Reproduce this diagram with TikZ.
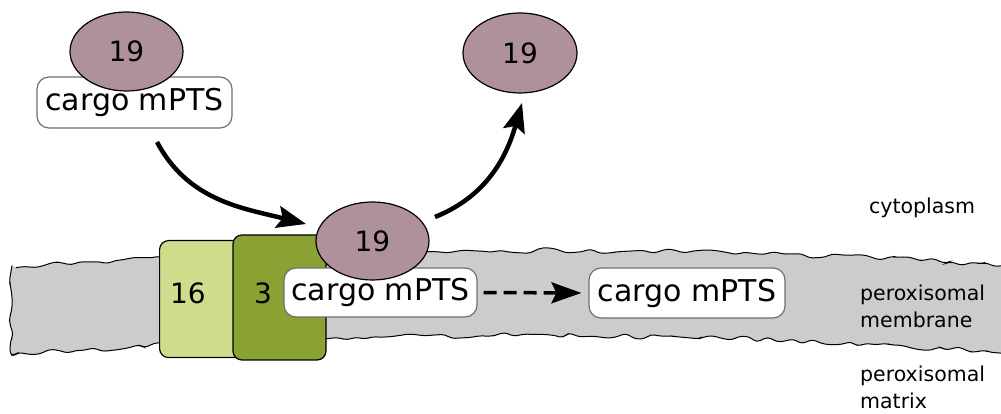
\documentclass[tikz,border=0pt]{standalone}
\usepackage{fontspec}
\setmainfont{DejaVu Sans}
\usetikzlibrary{shapes.geometric,arrows.meta,decorations.pathmorphing}
\definecolor{mauve}{RGB}{175,145,155}
\definecolor{lightg}{RGB}{206,220,140}
\definecolor{darkg}{RGB}{138,161,51}
\definecolor{memgray}{RGB}{204,204,204}
\definecolor{boxgray}{RGB}{112,112,112}
\begin{document}
\begin{tikzpicture}[x=1pt,y=1pt,
 pex/.style={ellipse,draw=black,line width=1.2pt,fill=mauve,inner sep=0pt,font=\fontsize{28}{30}\selectfont},
 cargo/.style={rectangle,rounded corners=12pt,draw=boxgray,line width=1.2pt,fill=white,inner sep=0pt,font=\fontsize{30}{32}\selectfont},
 pbox/.style={rectangle,rounded corners=9pt,draw=black,line width=1.2pt,inner sep=0pt},
 numtxt/.style={inner sep=0pt,font=\fontsize{28}{30}\selectfont},
 bigarrow/.style={line width=4.5pt,-{Stealth[length=29pt,width=22pt,inset=5pt]}},
 dasharrow/.style={line width=3.5pt,dash pattern=on 13pt off 7pt,-{Stealth[length=30pt,width=21pt,inset=5pt]}},
 lbl/.style={font=\fontsize{20.5}{27}\selectfont,align=left,anchor=west,inner sep=0pt}]
\useasboundingbox (0,0) rectangle (1001,414);
\clip (0,0) rectangle (1001,414);
% membrane
\pgfmathsetseed{7}
\path[fill=memgray,draw=black,line width=1pt,decorate,decoration={random steps,segment length=9pt,amplitude=3pt},rounded corners=4pt]
 (12,146) .. controls (300,168) and (700,170) .. (1015,148) -- (1015,61)
 .. controls (700,82) and (400,88) .. (12,59) -- cycle;
% boxes
\node[pbox,fill=lightg,minimum width=111,minimum height=117,anchor=north west] (b16) at (159,174) {};
\node[numtxt] (t16) at (188,121) {16};
\node[pbox,fill=darkg,minimum width=93,minimum height=125] (b3) at (279.5,116.5) {};
\node[numtxt] (t3) at (263,121) {3};
\node[cargo,minimum width=193,minimum height=49] (midbox) at (380.5,121.5) {cargo mPTS};
\node[pex,minimum width=113,minimum height=78] (mid19) at (372.5,173) {19};
\node[cargo,minimum width=196,minimum height=50] (rbox) at (687,121) {cargo mPTS};
\draw[dasharrow,shorten <=6pt,shorten >=7pt] (midbox.east) -- (rbox.west);
% top
\node[cargo,minimum width=195,minimum height=51] (tlbox) at (134.5,311.5) {cargo mPTS};
\node[pex,minimum width=113,minimum height=79] (tl19) at (126.5,362.5) {};
\node[numtxt] (tl19t) at (126.5,362.5) {19};
\node[pex,minimum width=114,minimum height=80] (tr19) at (520,361) {19};
% arrows
\coordinate (a1s) at (157,272);
\coordinate (a1e) at (306,190);
\coordinate (a2s) at (435,197);
\coordinate (a2e) at (522,311);
\draw[bigarrow] (a1s) to[out=-62,in=166] (a1e);
\draw[bigarrow] (a2s) to[out=22,in=-106] (a2e);
% labels
\node[lbl] (cyto) at (869,206) {cytoplasm};
\node[lbl] (memb) at (860,108) {peroxisomal\\membrane};
\node[lbl] (matr) at (860,27) {peroxisomal\\matrix};
\end{tikzpicture}
\end{document}
